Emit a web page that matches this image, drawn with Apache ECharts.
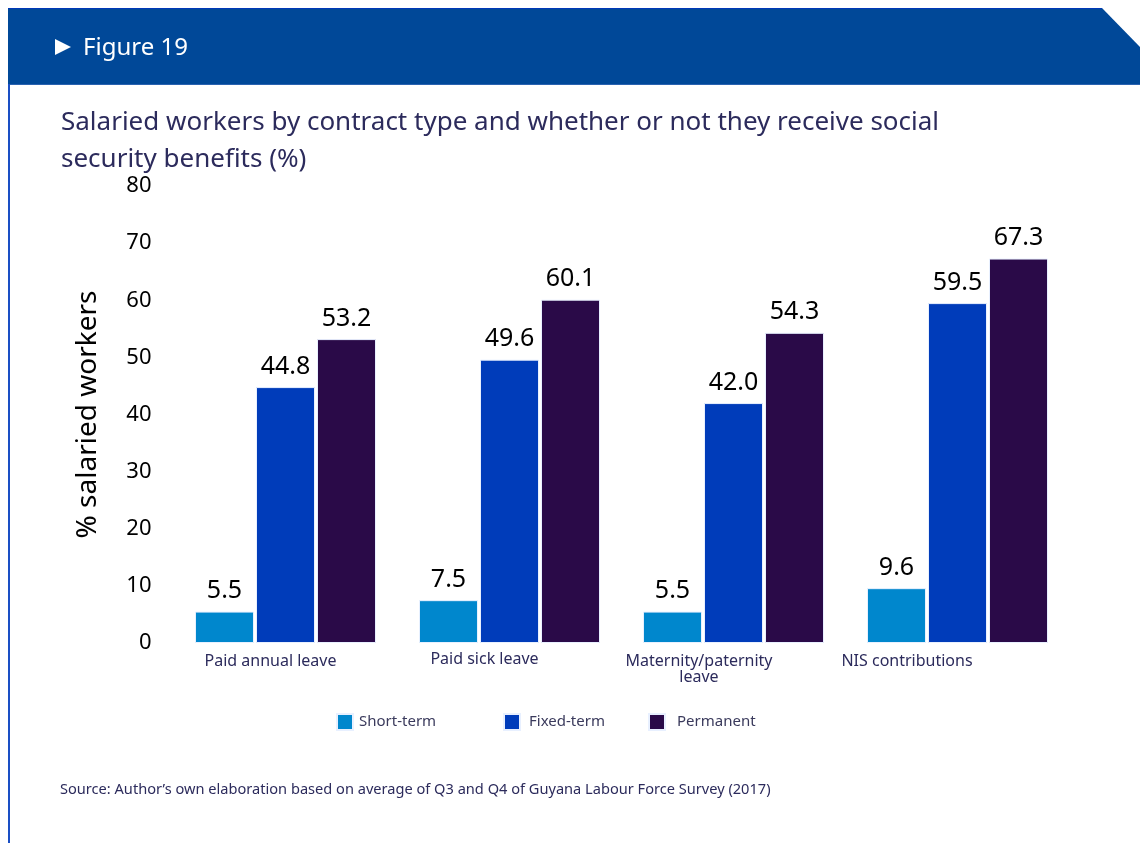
<!DOCTYPE html>
<html>
<head>
<meta charset="utf-8">
<script src="https://cdn.jsdelivr.net/npm/echarts@6/dist/echarts.min.js"></script>
<style>
  html, body { margin: 0; padding: 0; background: #ffffff; }
  #chart { width: 1140px; height: 843px; }
</style>
</head>
<body>
<div id="chart"></div>
<script>
// Benefit categories along the x axis
const categories = ['Paid annual leave', 'Paid sick leave', 'Maternity/paternity\nleave', 'NIS contributions'];
// Share of salaried workers receiving each benefit, by contract type (%)
const shortTerm = [5.5, 7.5, 5.5, 9.6];
const fixedTerm = [44.8, 49.6, 42.0, 59.5];
const permanent = [53.2, 60.1, 54.3, 67.3];
const seriesNames = ['Short-term', 'Fixed-term', 'Permanent'];
const yTicks = [0, 10, 20, 30, 40, 50, 60, 70, 80];

const colors = ['#0087cd', '#003cba', '#2a0a48'];
const navy = '#2c2b5c';
const FONT = '"Noto Sans", "Open Sans", sans-serif';

// per-category label nudges (left shift, vertical drop)
const labelStyles = ['c0', 'c1', 'c2', 'c3'];
const base = { fontSize: 16, color: navy, fontFamily: FONT, lineHeight: 16 };
const rich = {
  c0: Object.assign({ padding: [4, 30, 0, 0] }, base),
  c1: Object.assign({ padding: [0, 50, 0, 0] }, base),
  c2: Object.assign({ padding: [4, 69, 0, 0] }, base),
  c3: Object.assign({ padding: [4, 101, 0, 0] }, base)
};

const chart = echarts.init(document.getElementById('chart'), null, { renderer: 'canvas' });

function barSeries(name, data, color) {
  return {
    name: name,
    type: 'bar',
    data: data,
    barWidth: 59,
    barGap: '3.4%',
    itemStyle: { color: color, borderColor: '#e8f0ff', borderWidth: 1 },
    label: {
      show: true,
      position: 'top',
      distance: 8,
      fontSize: 25,
      color: '#000',
      fontFamily: FONT,
      formatter: p => p.value.toFixed(1)
    }
  };
}

function legendAt(name, left, textGap) {
  return {
    data: [name],
    left: left,
    top: 708,
    itemWidth: 16,
    itemHeight: 16,
    icon: 'rect',
    textStyle: { fontSize: 15, color: '#3a3a5c', fontFamily: FONT, padding: [0, 0, 0, textGap] }
  };
}

chart.setOption({
  backgroundColor: '#ffffff',
  animation: false,
  title: {
    text: 'Salaried workers by contract type and whether or not they receive social\nsecurity benefits (%)',
    left: 56,
    top: 99,
    textStyle: { fontSize: 26, fontWeight: 'normal', color: navy, fontFamily: FONT, lineHeight: 37 }
  },
  legend: [
    legendAt(seriesNames[0], 331, 1),
    legendAt(seriesNames[1], 498, 4),
    legendAt(seriesNames[2], 643, 7)
  ],
  grid: { left: 173.5, right: 70.5, top: 186, bottom: 200, containLabel: false },
  xAxis: {
    type: 'category',
    data: categories,
    axisLine: { show: false },
    axisTick: { show: false },
    axisLabel: {
      margin: 8,
      interval: 0,
      formatter: (v, i) => v.split('\n').map(s => '{' + labelStyles[i] + '|' + s + '}').join('\n'),
      rich: rich
    }
  },
  yAxis: {
    type: 'value',
    min: yTicks[0],
    max: yTicks[yTicks.length - 1],
    interval: 10,
    name: '% salaried workers',
    nameLocation: 'middle',
    nameGap: 71,
    nameTextStyle: { fontSize: 28, color: '#000', fontFamily: FONT },
    axisLine: { show: false },
    axisTick: { show: false },
    splitLine: { show: false },
    axisLabel: { fontSize: 22, color: '#000', fontFamily: FONT, margin: 22 }
  },
  series: [
    barSeries(seriesNames[0], shortTerm, colors[0]),
    barSeries(seriesNames[1], fixedTerm, colors[1]),
    barSeries(seriesNames[2], permanent, colors[2])
  ],
  graphic: [
    // header band with clipped top-right corner
    {
      type: 'polygon',
      shape: { points: [[8, 8], [1102, 8], [1140, 47], [1140, 84], [8, 84]] },
      style: { fill: '#004898' },
      silent: true
    },
    {
      type: 'line',
      shape: { x1: 8, y1: 8.5, x2: 1102, y2: 8.5 },
      style: { stroke: '#0038b8', lineWidth: 1 },
      silent: true
    },
    {
      type: 'line',
      shape: { x1: 8, y1: 84.5, x2: 1140, y2: 84.5 },
      style: { stroke: '#2a62b0', lineWidth: 1 },
      silent: true
    },
    // left frame rule
    {
      type: 'rect',
      shape: { x: 8, y: 84, width: 2, height: 759 },
      style: { fill: '#1a4fc4' },
      silent: true
    },
    // play marker and figure label
    {
      type: 'polygon',
      shape: { points: [[55, 39], [71, 47], [55, 55]] },
      style: { fill: '#ffffff' },
      silent: true
    },
    {
      type: 'text',
      left: 83,
      top: 36,
      style: { text: 'Figure 19', fill: '#ffffff', font: '24px ' + FONT },
      silent: true
    },
    {
      type: 'text',
      left: 60,
      top: 782,
      style: {
        text: 'Source: Author\u2019s own elaboration based on average of Q3 and Q4 of Guyana Labour Force Survey (2017)',
        fill: navy,
        font: '14.6px ' + FONT
      },
      silent: true
    }
  ]
});
</script>
</body>
</html>
